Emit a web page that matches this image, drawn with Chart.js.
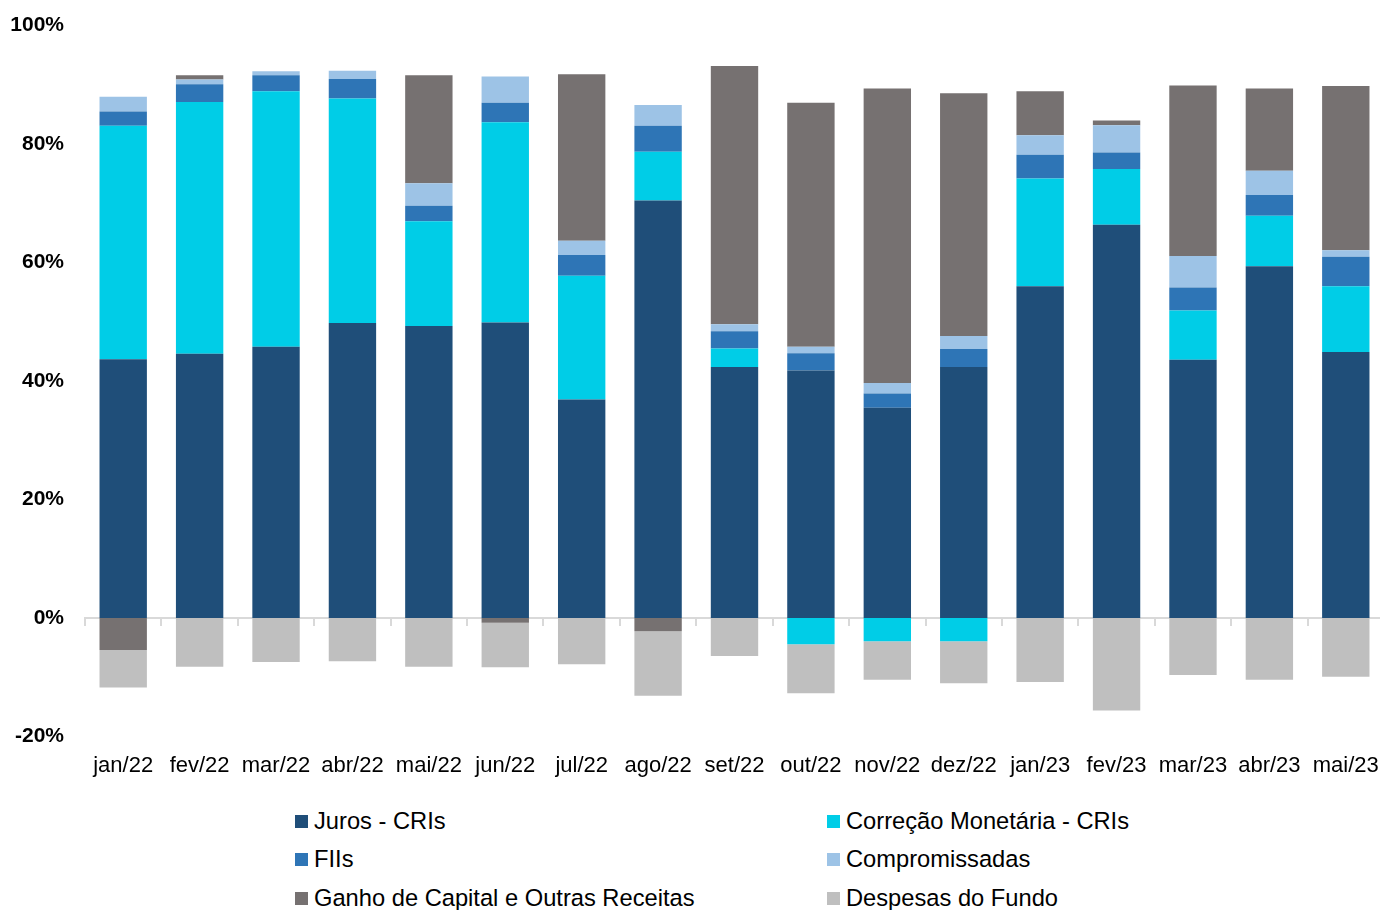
<!DOCTYPE html>
<html>
<head>
<meta charset="utf-8">
<script src="https://cdn.jsdelivr.net/npm/chart.js@4.4.1/dist/chart.umd.min.js"></script>
<style>
  html, body { margin: 0; padding: 0; background: #fff; width: 1380px; height: 910px; overflow: hidden; }
  #wrap { position: absolute; left: 0; top: 0; width: 1384px; height: 789px; }
  #legend { position: absolute; left: 295px; top: 802px; display: grid; grid-template-columns: 532px auto;
            grid-auto-rows: 38.5px; font-family: "Liberation Sans", Arial, sans-serif; font-size: 23.7px; color: #000; }
  .item { display: flex; align-items: center; white-space: nowrap; }
  .box { width: 13px; height: 13px; margin-right: 6px; flex: none; }
</style>
</head>
<body>
<div id="wrap"><canvas id="c"></canvas></div>
<div id="legend"></div>
<script>
const categories = ["jan/22","fev/22","mar/22","abr/22","mai/22","jun/22","jul/22","ago/22","set/22","out/22","nov/22","dez/22","jan/23","fev/23","mar/23","abr/23","mai/23"];
const jurosCRIs      = [43.7, 44.6, 45.8, 49.8, 49.3, 49.9, 36.9, 70.5, 42.4, 41.8, 35.5, 42.4, 56.0, 66.4, 43.6, 59.4, 44.9];
const correcaoCRIs   = [39.4, 42.5, 43.1, 37.9, 17.7, 33.8, 20.9,  8.2,  3.1, -4.4, -3.9, -3.9, 18.2,  9.4,  8.3,  8.5, 11.1];
const fiis           = [ 2.4,  3.0,  2.7,  3.3,  2.6,  3.3,  3.5,  4.4,  2.9,  2.9,  2.4,  3.0,  4.0,  2.8,  3.9,  3.5,  5.0];
const compromissadas = [ 2.5,  0.8,  0.7,  1.4,  3.8,  4.4,  2.4,  3.5,  1.2,  1.1,  1.8,  2.2,  3.3,  4.6,  5.3,  4.1,  1.1];
const ganhoCapital   = [-5.4,  0.7,  0.0,  0.0, 18.2, -0.8, 28.1, -2.2, 43.6, 41.2, 49.7, 41.0,  7.4,  0.8, 28.8, 13.9, 27.7];
const despesas       = [-6.3, -8.2, -7.4, -7.3, -8.2, -7.5, -7.8,-10.9, -6.4, -8.3, -6.5, -7.1,-10.8,-15.6, -9.6,-10.4, -9.9];
const yTicks = [-20, 0, 20, 40, 60, 80, 100];

const series = [
  { label: "Juros - CRIs", data: jurosCRIs, color: "#1F4E79" },
  { label: "Correção Monetária - CRIs", data: correcaoCRIs, color: "#00CDE7" },
  { label: "FIIs", data: fiis, color: "#2E75B6" },
  { label: "Compromissadas", data: compromissadas, color: "#9DC3E6" },
  { label: "Ganho de Capital e Outras Receitas", data: ganhoCapital, color: "#767171" },
  { label: "Despesas do Fundo", data: despesas, color: "#BFBFBF" }
];

const font = "'Liberation Sans', Arial, sans-serif";

const chart = new Chart(document.getElementById('c'), {
  type: 'bar',
  data: {
    labels: categories,
    datasets: series.map(s => ({
      label: s.label, data: s.data, backgroundColor: s.color,
      borderWidth: 0, barPercentage: 1, categoryPercentage: 0.62, stack: 's'
    }))
  },
  options: {
    responsive: true, maintainAspectRatio: false, animation: false,
    layout: { padding: { top: 13, right: 0, bottom: 2, left: 0 } },
    plugins: { legend: { display: false }, tooltip: { enabled: false } },
    scales: {
      x: {
        stacked: true, offset: true,
        afterFit: (scale) => { scale.paddingLeft = 0; scale.paddingRight = 0; },
        grid: { display: false }, border: { display: false },
        ticks: { color: '#000', font: { family: font, size: 22 }, padding: 8, maxRotation: 0, autoSkip: false }
      },
      x2: {
        type: 'category', labels: categories, position: { y: 0 }, offset: true,
        afterFit: (scale) => { scale.paddingLeft = 0; scale.paddingRight = 0; },
        grid: { offset: true, drawOnChartArea: false, drawTicks: true, tickLength: 7, color: '#D9D9D9', lineWidth: 2 },
        border: { display: true, color: '#D9D9D9', width: 2 },
        ticks: { display: false }
      },
      y: {
        stacked: true, min: -20, max: 100,
        afterBuildTicks: (scale) => { scale.ticks = yTicks.map(v => ({ value: v })); },
        afterFit: (scale) => { scale.width = 85; },
        grid: { display: false }, border: { display: false },
        ticks: { color: '#000', padding: 13, font: { family: font, size: 21, weight: 'bold' }, callback: v => v + '%' }
      }
    }
  }
});

const legend = document.getElementById('legend');
chart.data.datasets.forEach(ds => {
  const it = document.createElement('div'); it.className = 'item';
  const b = document.createElement('span'); b.className = 'box'; b.style.background = ds.backgroundColor;
  const t = document.createElement('span'); t.textContent = ds.label;
  it.appendChild(b); it.appendChild(t); legend.appendChild(it);
});
</script>
</body>
</html>
